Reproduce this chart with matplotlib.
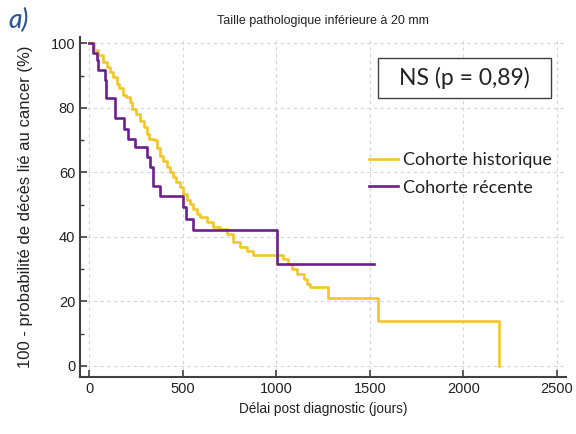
import matplotlib
matplotlib.use("Agg")
import matplotlib.pyplot as plt
from matplotlib.patches import Rectangle
from matplotlib.ticker import MultipleLocator

# Kaplan-Meier style curves (time in days, % survival)
hist_t = [0, 25, 45, 70, 95, 110, 127, 145, 160, 180, 195, 215, 230, 250, 270,
          290, 306, 320, 345, 360, 377, 395, 413, 430, 449, 465, 484, 502, 520,
          538, 556, 574, 592, 627, 660, 700, 734, 770, 806, 841, 877, 1037, 1064,
          1082, 1109, 1145, 1163, 1180, 1278, 1546, 2192]
hist_y = [100, 98, 96.3, 94.2, 92.6, 91, 89.5, 87.5, 86, 84, 83.3, 81.8, 79.5,
          78.2, 76, 74, 72, 70.4, 69.9, 67.5, 65.2, 63.5, 61.6, 60, 58.5, 57,
          55.4, 53.3, 51.5, 50.2, 48.5, 47.1, 46, 44.5, 43, 42.4, 40.9, 38.3,
          36.7, 35.7, 34.5, 33.1, 31.6, 30, 28.5, 26.9, 25.4, 24.3, 21, 14, 0]

rec_t = [0, 20, 38, 47, 83, 88, 137, 187, 208, 244, 306, 324, 338, 377, 502,
         517, 556, 1002, 1520]
rec_y = [100, 96.9, 94.8, 91.7, 88.5, 82.9, 77, 73.5, 70.4, 67.8, 64.7, 61.6,
         55.9, 52.8, 49.2, 45.6, 42.1, 31.5, 31.5]

x_ticks = [0, 500, 1000, 1500, 2000, 2500]
y_ticks = [0, 20, 40, 60, 80, 100]

YELLOW = "#F2C62A"
PURPLE = "#6C1F8E"
AXIS = "#404040"
TXT = "#222222"

fig = plt.figure(figsize=(5.76, 4.34), dpi=100)
ax = fig.add_axes([0.139, 0.131, 0.844, 0.784])

ax.step(hist_t, hist_y, where="post", color=YELLOW, lw=1.9, label="Cohorte historique")
ax.step(rec_t, rec_y, where="post", color=PURPLE, lw=1.9, label="Cohorte récente")

ax.set_xlim(-50, 2550)
ax.set_ylim(-3.5, 102)
ax.set_xticks(x_ticks)
ax.set_yticks(y_ticks)
ax.yaxis.set_minor_locator(MultipleLocator(10))
ax.grid(True, which="major", ls=(0, (3, 3)), color="#d4d4d4", lw=0.8)
ax.tick_params(direction="in", length=5, width=1.2, color=AXIS,
               labelsize=10.5, labelcolor=TXT)
ax.tick_params(which="minor", direction="in", length=3, width=1, color=AXIS)
for side in ("top", "right"):
    ax.spines[side].set_visible(False)
for side in ("left", "bottom"):
    ax.spines[side].set_color(AXIS)
    ax.spines[side].set_linewidth(1.5)
for lab in ax.get_xticklabels() + ax.get_yticklabels():
    lab.set_fontfamily("Liberation Sans")

ax.set_xlabel("Délai post diagnostic (jours)", fontsize=9.8,
              fontfamily="Liberation Sans", color=TXT, labelpad=4)
ax.set_ylabel("100 - probabilité de décès lié au cancer (%)", fontsize=12,
              fontfamily="Liberation Sans", color=TXT, labelpad=13)
ax.set_title("Taille pathologique inférieure à 20 mm", fontsize=9,
             fontfamily="Liberation Sans", color=TXT, pad=9)

# NS box
ax.add_patch(Rectangle((0.613, 0.821), 0.356, 0.117, transform=ax.transAxes,
                       fc="white", ec="#404040", lw=1, zorder=5))
ax.text(0.791, 0.879, "NS (p = 0,89)", transform=ax.transAxes, ha="center",
        va="center", fontsize=16.5, fontfamily="Lato", color=TXT, zorder=6)

leg = ax.legend(loc="center left", bbox_to_anchor=(0.594, 0.597), frameon=False,
                borderaxespad=0, borderpad=0, handlelength=1.6,
                handletextpad=0.3, labelspacing=0.62,
                prop={"family": "Lato", "size": 13})
for t in leg.get_texts():
    t.set_color(TXT)

fig.text(0.014, 0.952, "a)", fontsize=19, fontstyle="italic", fontfamily="Lato",
         fontweight="medium", color="#2F5597", ha="left", va="center")

fig.savefig("out.png", dpi=100)
